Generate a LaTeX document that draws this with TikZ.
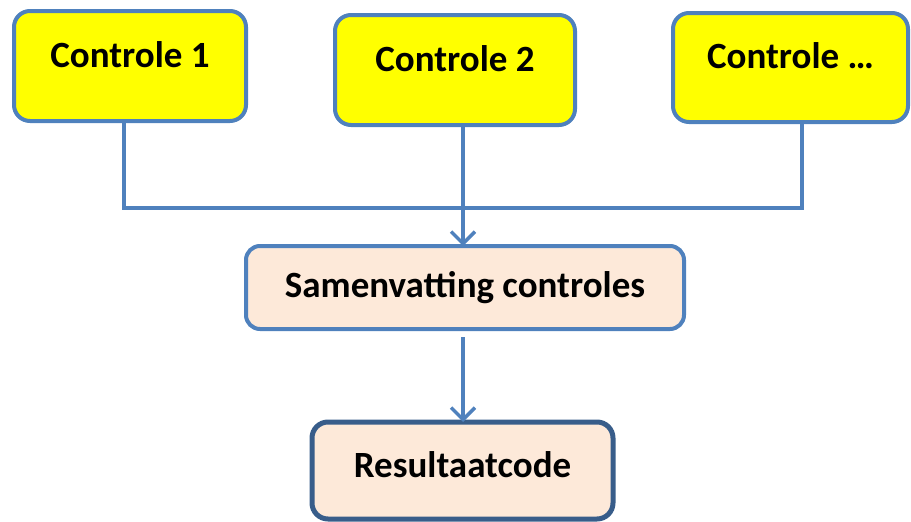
\documentclass[tikz,border=0pt]{standalone}
\usepackage{fontspec}
\setmainfont{Carlito}
\usepackage{tikz}
\usetikzlibrary{
	arrows.meta,
	positioning,
	calc
}
\definecolor{boxline}{HTML}{4F81BD}
\definecolor{darkline}{HTML}{385D8A}
\definecolor{peach}{HTML}{FDE9D9}
\definecolor{brightyellow}{HTML}{FFFF00}

\begin{document}
\begin{tikzpicture}[
				x=1pt, y=-1pt,
				stage/.style={
					rectangle, draw=boxline, line width=4pt, rounded corners=16pt,
					inner sep=0pt, outer sep=0pt, text height=24pt, text depth=0pt,
					align=center, font=\fontsize{37}{44}\selectfont\bfseries
				},
				yellowbox/.style={
					stage, fill=brightyellow, minimum height=110pt, text depth=22pt
				},
				sumbox/.style={
					stage, fill=peach, minimum width=438pt, minimum height=83pt,
					rounded corners=14pt, text depth=5pt
				},
				resultbox/.style={
					stage, fill=peach, draw=darkline, line width=5pt,
					minimum width=301pt, minimum height=97pt, text depth=11pt
				},
				link/.style={boxline, line width=3.5pt},
				arrow/.style={link, -{Straight Barb[length=12pt, width=24pt]}}
				]
				\useasboundingbox (0,0) rectangle (911,522);
				
				% Controle 1
				\node[yellowbox, minimum width=232pt] (c1) at (130,66) {Controle 1};
				
				% Controle 2
				\node[yellowbox, minimum width=240pt, right=89pt of c1, yshift=-4pt] (c2) {Controle 2};
				
				% Controle ...
				\node[yellowbox, minimum width=235pt, minimum height=109pt, right=98pt of c2, yshift=2.5pt] (c3) {Controle \dots};
				
				% Samenvatting
				\node[sumbox, below=121pt of c2, xshift=10pt] (sam) {Samenvatting controles};
				
				% Resultaatcode
				\node[resultbox, below=93pt of sam, xshift=-2.5pt] (res) {Resultaatcode};
				
				% bus between the checks
				\coordinate (bus) at ([xshift=8pt, yshift=-83pt]c2.south);
				
				\draw[link] ([xshift=-6pt]c1.south) |- (bus) -| ([xshift=11.5pt]c3.south);
				\draw[arrow] ([xshift=8pt]c2.south) -- (bus) -- (bus |- sam.north);
				\draw[arrow, shorten <=8pt] ([xshift=-2pt]sam.south) -- ([xshift=-2pt]sam.south |- res.north);
			\end{tikzpicture}
\end{document}
